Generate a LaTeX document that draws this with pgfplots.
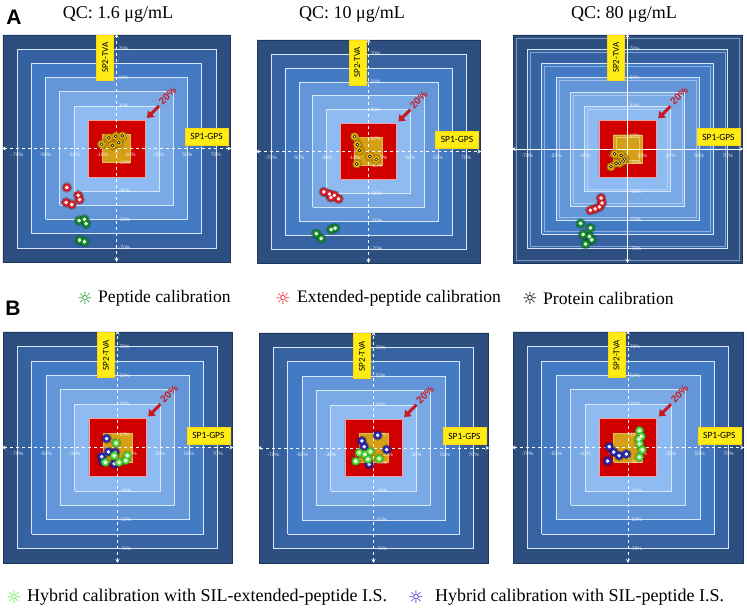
\documentclass[border=0pt]{standalone}
\usepackage{fontspec}
\setmainfont{Liberation Serif}
\newfontfamily\sansf{Liberation Sans}
\newfontfamily\carl{Carlito}
\newfontfamily\dejavu{DejaVu Sans}
\usepackage{pgfplots}
\pgfplotsset{compat=1.18}
\usetikzlibrary{arrows.meta}

\definecolor{r80}{RGB}{44,79,128}
\definecolor{r70}{RGB}{54,98,162}
\definecolor{r60}{RGB}{66,122,195}
\definecolor{r50}{RGB}{98,150,216}
\definecolor{r40}{RGB}{122,170,230}
\definecolor{r30}{RGB}{142,188,242}
\definecolor{ringline}{RGB}{215,230,248}
\definecolor{redsq}{RGB}{208,0,0}
\definecolor{redline}{RGB}{245,160,160}
\definecolor{goldsq}{RGB}{214,160,22}
\definecolor{tagyel}{RGB}{255,236,20}
\definecolor{arrred}{RGB}{200,25,35}
\definecolor{protfill}{RGB}{235,175,0}
\definecolor{extfill}{RGB}{230,30,40}
\definecolor{pepfill}{RGB}{20,150,40}
\definecolor{hybg}{RGB}{90,230,60}
\definecolor{hybb}{RGB}{40,40,190}

\pgfplotsset{panel/.style={scale only axis, axis lines=none, xmin=-80,xmax=80,ymin=-80,ymax=80, clip=false, anchor=south west}}
\tikzset{lab/.style={font=\sansf\fontsize{5}{6}\selectfont, text=white, text opacity=0.85, inner sep=0.5pt}}

\newcommand{\sq}[1]{(-#1,-#1)(#1,-#1)(#1,#1)(-#1,#1)(-#1,-#1)}

\newcommand{\panelsq}{%
 \addplot[fill=r80, draw=r80!70!black, line width=0.5pt] coordinates {\sq{80}};
 \addplot[fill=r70, draw=ringline, line width=0.6pt] coordinates {\sq{70}};
 \addplot[fill=r60, draw=ringline, line width=0.6pt] coordinates {\sq{60}};
 \addplot[fill=r50, draw=ringline, line width=0.6pt] coordinates {\sq{50}};
 \addplot[fill=r40, draw=ringline, line width=0.6pt] coordinates {\sq{40}};
 \addplot[fill=r30, draw=ringline, line width=0.6pt] coordinates {\sq{30}};
 \addplot[fill=redsq, draw=redline, line width=0.6pt] coordinates {\sq{20}};
 \addplot[fill=goldsq, draw=goldsq!70!white, line width=0.4pt] coordinates {\sq{10}};
}
\newcommand{\panelover}[1]{%
 \addplot[white, #1, line width=0.9pt, {Stealth[open,length=4pt,width=4pt]}-{Stealth[open,length=4pt,width=4pt]}] coordinates {(-81,0)(81,0)};
 \addplot[white, #1, line width=0.9pt, {Stealth[open,length=4pt,width=4pt]}-{Stealth[open,length=4pt,width=4pt]}] coordinates {(0,-80)(0,81)};
 \pgfplotsinvokeforeach{-70,-50,-30,-10,10,30,50,70}{\node[lab] at (axis cs:##1,-4.5) {##1\%};}
 \pgfplotsinvokeforeach{70,50,30,-10,-30,-50,-70}{\node[lab, anchor=west] at (axis cs:1,##1) {##1\%};}
 \node[lab, anchor=west] at (axis cs:1,9) {10\%};
 \node[fill=tagyel, draw=tagyel!80!orange, rotate=90, minimum width=45pt, minimum height=17pt, inner sep=0pt, font=\carl\fontsize{9}{10}\selectfont] at (axis cs:-8,64) {SP2-TVA};
 \node[fill=tagyel, draw=tagyel!80!orange, minimum width=43pt, minimum height=17pt, inner sep=0pt, font=\carl\fontsize{9.5}{10}\selectfont] at (axis cs:63.5,8.3) {SP1-GPS};
 \addplot[arrred, line width=3pt, -{Triangle[length=6pt,width=9pt]}] coordinates {(30,30)(21.5,21.5)};
 \node[text=arrred, rotate=45, font=\sansf\bfseries\fontsize{10}{11}\selectfont] at (axis cs:36,37) {20\%};
}

\newcommand{\series}[3]{%
 \addplot[only marks, mark=*, mark size=5pt, mark options={fill=#1, draw=none, opacity=0.35}] coordinates {#3};
 \addplot[only marks, mark=*, mark size=3.8pt, mark options={fill=#1, draw=#1!60!black, line width=0.4pt}] coordinates {#3};
 \addplot[only marks, mark=*, mark size=1.5pt, mark options={fill=white, draw=#2, line width=0.5pt}] coordinates {#3};
}

\begin{document}
\begin{tikzpicture}
\path[use as bounding box] (0pt,0pt) rectangle (747pt,609pt);

% ---------- A1 ----------
\begin{axis}[panel, at={(3pt,347pt)}, width=227pt, height=227pt]
\panelsq
\panelover{dashed}
\node[lab, anchor=north] at (axis cs:0,-1) {0};
\series{extfill}{white}{(-35,-27.5)(-27,-33)(-26,-36)(-35.5,-38)(-31.5,-39.5)}
\series{pepfill}{white}{(-26.3,-50.8)(-22.6,-50)(-21.4,-53)(-26,-64.6)(-22.6,-65.7)}
\series{protfill}{black}{(-10.5,3)(-5.4,7.5)(-0.5,8.6)(4.2,8.9)(1.6,4)(-2.8,2.1)}
\end{axis}

% ---------- A2 ----------
\begin{axis}[panel, at={(257pt,346pt)}, width=223pt, height=223pt]
\panelsq
\panelover{dashed}
\series{extfill}{white}{(-32,-29)(-28,-30.5)(-24.5,-31.5)(-21.5,-34)(-27,-33)}
\series{pepfill}{white}{(-37.4,-59)(-34,-62.4)(-26.7,-56)(-24,-55)}
\series{protfill}{black}{(-10,10.7)(-8,4.9)(-6.5,0.7)(1,-3.5)(5.6,-5.8)(-8.4,-9)}
\end{axis}

% ---------- A3 ----------
\begin{axis}[panel, at={(513pt,346pt)}, width=229pt, height=228pt]
\panelsq
\addplot[draw=ringline, draw opacity=0.5, line width=0.4pt] coordinates {\sq{78}};
\addplot[draw=ringline, draw opacity=0.5, line width=0.4pt] coordinates {\sq{68}};
\addplot[draw=ringline, draw opacity=0.5, line width=0.4pt] coordinates {\sq{58}};
\addplot[draw=ringline, draw opacity=0.5, line width=0.4pt] coordinates {\sq{48}};
\addplot[draw=ringline, draw opacity=0.5, line width=0.4pt] coordinates {\sq{38}};
\addplot[draw=ringline, draw opacity=0.5, line width=0.4pt] coordinates {\sq{28}};
\addplot[draw=goldsq!60!white, line width=0.4pt] coordinates {\sq{8}};
\panelover{solid}
\series{extfill}{white}{(-25.9,-43)(-22.6,-42)(-19.6,-40.6)(-17.8,-37.9)(-18.5,-34.4)}
\series{pepfill}{white}{(-32.8,-52.2)(-25.9,-55.4)(-31,-60)(-26.6,-61.4)(-25,-63.7)(-29.3,-66.7)}
\series{protfill}{black}{(-9,-3.5)(-4.5,-4.5)(-2,-7)(-8,-10)(-11.5,-12.5)(-5.5,-10)(-3,-8.5)}
\end{axis}

% ---------- B1 ----------
\begin{axis}[panel, at={(3pt,46pt)}, width=229pt, height=231pt]
\panelsq
\panelover{dashed}
\series{hybb}{white}{(-7.6,6.2)(-6.4,-3)(-11,-6.4)(-10.3,-9.7)(-2.3,-11.3)(-1.6,-3.4)}
\series{hybg}{white}{(-1,3)(-2.3,-5.7)(6.9,-5.7)(5.7,-9)(1.1,-10.3)(-8.5,-10.3)}
\end{axis}

% ---------- B2 ----------
\begin{axis}[panel, at={(259pt,46pt)}, width=229pt, height=230pt]
\panelsq
\panelover{dashed}
\series{hybb}{white}{(2.9,8.8)(-8.1,4.9)(-6.5,0.9)(9.2,-1.1)(-3.1,-11.2)}
\series{hybg}{white}{(-10,-3.4)(-6,-4.5)(-2.2,-2.5)(-3.8,-7.9)(4,-7.4)(-12.4,-9.2)}
\end{axis}

% ---------- B3 ----------
\begin{axis}[panel, at={(513pt,46pt)}, width=230pt, height=231pt]
\panelsq
\panelover{dashed}
\series{hybb}{white}{(-13,0.5)(-9.9,-3.2)(-6.2,-5.7)(-1.1,-4.6)(-14.2,-9.4)}
\series{hybg}{white}{(8,11.7)(9.2,7.6)(7.6,5.7)(8,2.5)(9.9,-1.6)(8,-6.7)}
\end{axis}

% ---------- titles and legends ----------
\node[font=\fontsize{18}{20}\selectfont] at (118pt,595pt) {QC: 1.6 μg/mL};
\node[font=\fontsize{18}{20}\selectfont] at (352pt,595pt) {QC: 10 μg/mL};
\node[font=\fontsize{18}{20}\selectfont] at (624pt,595pt) {QC: 80 μg/mL};
\node[font=\sansf\bfseries\fontsize{21}{22}\selectfont] at (14pt,592pt) {A};
\node[font=\sansf\bfseries\fontsize{21}{22}\selectfont] at (13pt,301pt) {B};

\node[font=\dejavu\fontsize{17}{18}\selectfont, text=pepfill] at (85pt,311pt) {☼};
\node[font=\fontsize{17.6}{20}\selectfont, anchor=west, inner sep=0pt] at (98pt,311pt) {Peptide calibration};
\node[font=\dejavu\fontsize{17}{18}\selectfont, text=extfill] at (283pt,311pt) {☼};
\node[font=\fontsize{17.6}{20}\selectfont, anchor=west, inner sep=0pt] at (297pt,311pt) {Extended-peptide calibration};
\node[font=\dejavu\fontsize{17}{18}\selectfont, text=black] at (530pt,311pt) {☼};
\node[font=\fontsize{17.6}{20}\selectfont, anchor=west, inner sep=0pt] at (543pt,311pt) {Protein calibration};

\node[font=\dejavu\fontsize{17}{18}\selectfont, text=hybg] at (14pt,12pt) {☼};
\node[font=\fontsize{18}{20}\selectfont, anchor=west, inner sep=0pt] at (27pt,12pt) {Hybrid calibration with SIL-extended-peptide I.S.};
\node[font=\dejavu\fontsize{17}{18}\selectfont, text=hybb] at (416pt,12pt) {☼};
\node[font=\fontsize{18}{20}\selectfont, anchor=west, inner sep=0pt] at (435pt,12pt) {Hybrid calibration with SIL-peptide I.S.};
\end{tikzpicture}
\end{document}
